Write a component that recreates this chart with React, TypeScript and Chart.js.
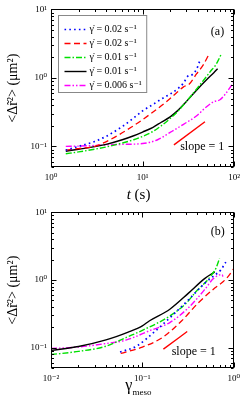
import React, { useEffect, useRef } from "react";
import { Chart, registerables } from "chart.js";
Chart.register(...registerables);

const SERIF = '"Liberation Serif", "DejaVu Serif", serif';
const W = 245;
const H = 203;

// ---------- Panel (a): <Δr²> vs t (s)
const tBlueA = [1.45, 2, 3, 4, 6, 8, 10, 13, 16, 20, 25, 28, 31, 35, 39, 42];
const yBlueA = [0.088, 0.1, 0.118, 0.14, 0.195, 0.26, 0.33, 0.41, 0.49, 0.58, 0.72, 0.84, 1.05, 1.12, 1.35, 1.75];
const tRedA = [1.45, 2, 3, 4.5, 7.5, 12.3, 18.6, 24, 28, 32, 39, 46, 53];
const yRedA = [0.088, 0.093, 0.1, 0.127, 0.19, 0.3, 0.46, 0.62, 0.74, 0.8, 1.15, 1.55, 2.2];
const tGreenA = [1.45, 2, 3, 4, 6, 8, 10, 13, 16, 20, 24, 30, 40, 50, 56, 62, 67, 72];
const yGreenA = [0.078, 0.083, 0.091, 0.098, 0.112, 0.125, 0.14, 0.165, 0.2, 0.255, 0.32, 0.45, 0.72, 1.05, 1.28, 1.5, 1.8, 2.2];
const tBlackA = [1.45, 2, 3, 4, 6, 8, 10, 13, 16, 20, 24, 30, 40, 50, 60, 66];
const yBlackA = [0.085, 0.091, 0.099, 0.107, 0.125, 0.143, 0.162, 0.19, 0.225, 0.27, 0.33, 0.45, 0.69, 0.94, 1.19, 1.36];
const tMagentaA = [1.45, 2, 3, 4, 6, 10, 14.6, 20, 28, 39, 50, 60, 70, 80, 90, 100];
const yMagentaA = [0.1, 0.101, 0.103, 0.105, 0.107, 0.11, 0.125, 0.16, 0.21, 0.28, 0.38, 0.45, 0.48, 0.58, 0.72, 0.88];
const tSlopeA = [22, 48];
const ySlopeA = [0.105, 0.229];

// ---------- Panel (b): <Δr²> vs γ_meso
const gBlackB = [0.01, 0.02, 0.04, 0.07, 0.1, 0.12, 0.2, 0.32, 0.48, 0.62];
const yBlackB = [0.091, 0.104, 0.13, 0.17, 0.21, 0.25, 0.37, 0.64, 1.05, 1.32];
const gGreenB = [0.01, 0.02, 0.04, 0.067, 0.1, 0.2, 0.3, 0.39, 0.5, 0.57, 0.64, 0.7];
const yGreenB = [0.079, 0.088, 0.105, 0.142, 0.18, 0.294, 0.45, 0.68, 0.95, 1.18, 1.5, 2.1];
const gMagentaB = [0.01, 0.02, 0.038, 0.067, 0.12, 0.2, 0.32, 0.48, 0.6, 0.7, 0.75, 0.76];
const yMagentaB = [0.097, 0.102, 0.114, 0.13, 0.178, 0.235, 0.39, 0.72, 1.05, 1.19, 1.2, 1.12];
const gBlueB = [0.057, 0.086, 0.14, 0.21, 0.32, 0.48, 0.62, 0.72, 0.82];
const yBlueB = [0.086, 0.105, 0.178, 0.294, 0.51, 0.89, 1.18, 1.4, 1.84];
const gRedB = [0.058, 0.1, 0.167, 0.27, 0.41, 0.62, 0.77, 0.88, 1.0];
const yRedB = [0.082, 0.102, 0.142, 0.25, 0.46, 0.76, 0.95, 1.15, 1.47];
const gSlopeB = [0.17, 0.31];
const ySlopeB = [0.095, 0.173];

// ---------- labels
const seriesLabels = ["γ̇ = 0.02 s⁻¹", "γ̇ = 0.02 s⁻¹", "γ̇ = 0.01 s⁻¹", "γ̇ = 0.01 s⁻¹", "γ̇ = 0.006 s⁻¹"];
const supMap: Record<string, string> = { "-": "⁻", "0": "⁰", "1": "¹", "2": "²", "3": "³" };
const decadeLabel = (e: number) => "10" + String(e).split("").map((c) => supMap[c] || c).join("");
const yTitle = "<Δr̃²> (μm²)";
const slopeText = "slope = 1";

const styles = [
  { color: "#0000ff", dash: [1.6, 3.2], width: 1.7 },
  { color: "#ff0000", dash: [6, 3.5], width: 1.3 },
  { color: "#00e000", dash: [6, 2, 1.5, 2], width: 1.4 },
  { color: "#000000", dash: [] as number[], width: 1.4 },
  { color: "#ff00ff", dash: [6, 2, 1.5, 2, 1.5, 2], width: 1.4 },
];

const pts = (xs: number[], ys: number[]) => xs.map((x, i) => ({ x, y: ys[i] }));

function ds(label: string | undefined, xs: number[], ys: number[], st: { color: string; dash: number[]; width: number }) {
  return {
    label,
    data: pts(xs, ys),
    borderColor: st.color,
    backgroundColor: st.color,
    borderDash: st.dash,
    borderWidth: st.width,
    pointRadius: 0,
    cubicInterpolationMode: "monotone" as const,
    fill: false,
  };
}

const slopeStyle = { color: "#ff0000", dash: [] as number[], width: 1.4 };

function logTicks(min: number, max: number) {
  const out: [number, boolean][] = [];
  for (let e = Math.floor(Math.log10(min)) - 1; e <= Math.ceil(Math.log10(max)); e++) {
    for (let m = 1; m <= 9; m++) {
      const v = m * Math.pow(10, e);
      if (v >= min * 0.999 && v <= max * 1.001) out.push([v, m === 1]);
    }
  }
  return out;
}

type Deco = {
  legend: boolean;
  panel: string;
  panelDx: number;
  panelDy: number;
  slopeDx: number;
  slopeDy: number;
  xTitle: "t" | "gamma";
  xTitleDy: number;
};

function decoPlugin(d: Deco) {
  return {
    id: "deco",
    afterDraw(chart: any) {
      const { ctx, chartArea: a, scales } = chart;
      const xs = scales.x;
      const ys = scales.y;
      ctx.save();
      ctx.strokeStyle = "#000";
      ctx.lineWidth = 1;
      ctx.setLineDash([]);
      const L = Math.round(a.left) + 0.5;
      const R = Math.round(a.right) - 0.5;
      const T = Math.round(a.top) + 0.5;
      const B = Math.round(a.bottom) - 0.5;
      ctx.strokeRect(L, T, R - L, B - T);
      ctx.beginPath();
      for (const [v, major] of logTicks(xs.min, xs.max)) {
        const p = Math.round(xs.getPixelForValue(v)) + 0.5;
        const len = major ? 5 : 2.5;
        ctx.moveTo(p, B);
        ctx.lineTo(p, B - len);
        ctx.moveTo(p, T);
        ctx.lineTo(p, T + len);
      }
      for (const [v, major] of logTicks(ys.min, ys.max)) {
        const p = Math.round(ys.getPixelForValue(v)) + 0.5;
        const len = major ? 5 : 2.5;
        ctx.moveTo(L, p);
        ctx.lineTo(L + len, p);
        ctx.moveTo(R, p);
        ctx.lineTo(R - len, p);
      }
      ctx.stroke();

      ctx.fillStyle = "#000";
      // panel letter
      ctx.font = `12px ${SERIF}`;
      ctx.textAlign = "right";
      ctx.textBaseline = "middle";
      ctx.fillText(d.panel, a.right - d.panelDx, a.top + d.panelDy);
      // slope text
      ctx.textAlign = "left";
      ctx.fillText(slopeText, a.right - d.slopeDx, a.bottom - d.slopeDy);

      // y title
      ctx.save();
      ctx.translate(13, (a.top + a.bottom) / 2);
      ctx.rotate(-Math.PI / 2);
      ctx.font = `14px ${SERIF}`;
      ctx.textAlign = "center";
      ctx.textBaseline = "middle";
      ctx.fillText(yTitle, 0, 0);
      ctx.restore();

      // x title
      const cx = (a.left + a.right) / 2 - 4;
      const by = a.bottom + d.xTitleDy;
      ctx.textBaseline = "alphabetic";
      ctx.textAlign = "left";
      if (d.xTitle === "t") {
        ctx.font = `italic 15px ${SERIF}`;
        const p1 = "t";
        const w1 = ctx.measureText(p1).width;
        ctx.font = `15px ${SERIF}`;
        const p2 = " (s)";
        const w2 = ctx.measureText(p2).width;
        const x0 = cx - (w1 + w2) / 2;
        ctx.font = `italic 15px ${SERIF}`;
        ctx.fillText(p1, x0, by);
        ctx.font = `15px ${SERIF}`;
        ctx.fillText(p2, x0 + w1, by);
      } else {
        ctx.font = `16px ${SERIF}`;
        const p1 = "γ";
        const w1 = ctx.measureText(p1).width;
        ctx.font = `9px ${SERIF}`;
        const p2 = "meso";
        const w2 = ctx.measureText(p2).width;
        const x0 = cx - (w1 + w2) / 2;
        ctx.font = `16px ${SERIF}`;
        ctx.fillText(p1, x0, by);
        ctx.font = `9px ${SERIF}`;
        ctx.fillText(p2, x0 + w1, by + 5);
      }

      // legend
      if (d.legend) {
        const items = chart.data.datasets.filter((s: any) => s.label);
        ctx.font = `10px ${SERIF}`;
        let maxW = 0;
        for (const s of items) maxW = Math.max(maxW, ctx.measureText(s.label).width);
        const bx = Math.round(a.left + 7) + 0.5;
        const by0 = Math.round(a.top + 6) + 0.5;
        const rowH = 14;
        const textX = bx + 31;
        const bw = textX - bx + maxW + 5;
        const bh = rowH * items.length + 7;
        ctx.fillStyle = "#fff";
        ctx.fillRect(bx, by0, bw, bh);
        ctx.strokeStyle = "#888";
        ctx.lineWidth = 1;
        ctx.strokeRect(bx, by0, bw, bh);
        items.forEach((s: any, i: number) => {
          const yy = by0 + 14 + i * rowH;
          ctx.strokeStyle = s.borderColor;
          ctx.lineWidth = s.borderWidth;
          ctx.setLineDash(s.borderDash || []);
          ctx.beginPath();
          ctx.moveTo(bx + 6, yy);
          ctx.lineTo(bx + 28, yy);
          ctx.stroke();
          ctx.setLineDash([]);
          ctx.fillStyle = "#000";
          ctx.textBaseline = "middle";
          ctx.fillText(s.label, textX, yy);
        });
      }
      ctx.restore();
    },
  };
}

function axisOpts(min: number, max: number, isX: boolean, size: number) {
  return {
    type: "logarithmic" as const,
    min,
    max,
    grid: { display: false, drawTicks: false },
    border: { display: false },
    ticks: {
      autoSkip: false,
      maxRotation: 0,
      padding: isX ? 5 : 4,
      color: "#000",
      font: { family: SERIF, size: 9 },
      callback: (v: any) => {
        const l = Math.log10(Number(v));
        const r = Math.round(l);
        return Math.abs(l - r) < 1e-6 ? decadeLabel(r) : "";
      },
    },
    afterFit: (s: any) => {
      if (isX) s.height = size;
      else s.width = size;
    },
  };
}

function makeConfig(datasets: any[], xmin: number, xmax: number, padTop: number, xAxisH: number, deco: Deco) {
  return {
    type: "line" as const,
    data: { datasets },
    options: {
      responsive: false,
      animation: false as const,
      devicePixelRatio: 1,
      layout: { padding: { left: 0, right: 8, top: padTop, bottom: 0 } },
      plugins: { legend: { display: false }, tooltip: { enabled: false } },
      scales: {
        x: axisOpts(xmin, xmax, true, xAxisH),
        y: axisOpts(0.05, 10, false, 51),
      },
    },
    plugins: [decoPlugin(deco)],
  };
}

function Panel({ build }: { build: () => any }) {
  const ref = useRef<HTMLCanvasElement>(null);
  useEffect(() => {
    const c = new Chart(ref.current!, build());
    return () => c.destroy();
  }, []);
  return <canvas ref={ref} width={W} height={H} style={{ display: "block", width: W, height: H }} />;
}

const buildA = () =>
  makeConfig(
    [
      ds(seriesLabels[0], tBlueA, yBlueA, styles[0]),
      ds(seriesLabels[1], tRedA, yRedA, styles[1]),
      ds(seriesLabels[2], tGreenA, yGreenA, styles[2]),
      ds(seriesLabels[3], tBlackA, yBlackA, styles[3]),
      ds(seriesLabels[4], tMagentaA, yMagentaA, styles[4]),
      ds(undefined, tSlopeA, ySlopeA, slopeStyle),
    ],
    1,
    100,
    9,
    36,
    { legend: true, panel: "(a)", panelDx: 10, panelDy: 22.5, slopeDx: 54, slopeDy: 20, xTitle: "t", xTitleDy: 32 }
  );

const buildB = () =>
  makeConfig(
    [
      ds(seriesLabels[0], gBlueB, yBlueB, styles[0]),
      ds(seriesLabels[1], gRedB, yRedB, styles[1]),
      ds(seriesLabels[2], gGreenB, yGreenB, styles[2]),
      ds(seriesLabels[3], gBlackB, yBlackB, styles[3]),
      ds(seriesLabels[4], gMagentaB, yMagentaB, styles[4]),
      ds(undefined, gSlopeB, ySlopeB, slopeStyle),
    ],
    0.01,
    1,
    6,
    38,
    { legend: false, panel: "(b)", panelDx: 9, panelDy: 19, slopeDx: 62, slopeDy: 16.5, xTitle: "gamma", xTitleDy: 22 }
  );

export default function App() {
  return (
    <div style={{ position: "absolute", left: 0, top: 0, width: W, height: 2 * H, background: "#fff" }}>
      <Panel build={buildA} />
      <Panel build={buildB} />
    </div>
  );
}
